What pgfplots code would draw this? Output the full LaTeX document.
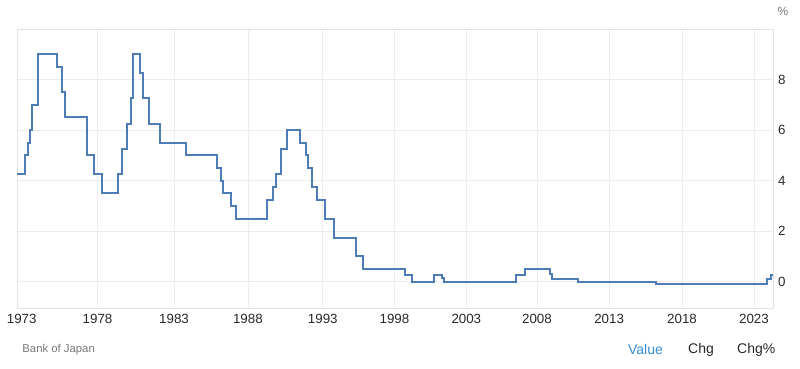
\documentclass[border=0pt]{standalone}
\usepackage{pgfplots}
\pgfplotsset{compat=1.18}
\usepackage{fontspec}
\setmainfont{Liberation Sans}
\definecolor{linec}{RGB}{77,124,182}
\definecolor{gridc}{RGB}{236,236,236}
\definecolor{framec}{RGB}{226,226,226}
\definecolor{tickc}{RGB}{40,40,40}
\definecolor{srcc}{RGB}{120,120,120}
\definecolor{valc}{RGB}{52,142,214}
\begin{document}
\begin{tikzpicture}
\path[use as bounding box] (0,0) rectangle (600pt,276pt);
\begin{axis}[
  at={(12.98pt,44.78pt)}, anchor=south west,
  width=567pt, height=209.5pt, scale only axis,
  x coord trafo/.code={\pgfmathparse{#1<1978 ? (20.8+(#1-1973)*15.18) : (#1<1983 ? (96.7+(#1-1978)*15.32) : (#1<1988 ? (173.3+(#1-1983)*14.8) : (#1<1993 ? (247.3+(#1-1988)*15.0) : (#1<1998 ? (322.3+(#1-1993)*14.34) : (#1<2003 ? (394+(#1-1998)*14.4) : (#1<2008 ? (466+(#1-2003)*14.14) : (#1<2013 ? (536.7+(#1-2008)*14.46) : (#1<2018 ? (609+(#1-2013)*14.6) : (#1<2023 ? (682+(#1-2018)*14.4) : (754+(#1-2023)*11)))))))))))}},
  xmin=1972.71, xmax=2024.76,
  ymin=-1.05, ymax=10,
  xtick={1978,1983,1988,1993,1998,2003,2008,2013,2018,2023},
  xticklabels={1978,1983,1988,1993,1998,2003,2008,2013,2018,2023},
  extra x ticks={1973}, extra x tick labels={1973},
  extra x tick style={grid=none},
  ytick={0,2,4,6,8,10}, yticklabels={0,2,4,6,8,},
  yticklabel pos=right,
  grid=major, grid style={color=gridc, line width=0.5pt},
  axis line style={color=framec, line width=0.6pt},
  tick style={draw=none},
  /pgf/number format/assume math mode=true,
  ticklabel style={font=\fontsize{10}{12}\selectfont, text=tickc},
  yticklabel style={anchor=west, xshift=0pt},
  xticklabel style={yshift=-1pt},
  clip=false,
]
\addplot[const plot, color=linec, line width=1.5pt, line join=miter] coordinates {
(1972.71,4.25) (1973.21,5.0) (1973.39,5.5) (1973.54,6.0) (1973.67,7.0)
(1974.05,9.0) (1975.30,8.5) (1975.65,7.5) (1975.87,6.5) (1977.33,5.0)
(1977.76,4.25) (1978.28,3.5) (1979.31,4.25) (1979.57,5.25) (1979.90,6.25)
(1980.18,7.25) (1980.35,9.0) (1980.78,8.25) (1981.00,7.25) (1981.37,6.25)
(1982.08,5.5) (1983.84,5.0) (1985.93,4.5) (1986.20,4.0) (1986.33,3.5)
(1986.88,3.0) (1987.17,2.5) (1989.29,3.25) (1989.67,3.75) (1989.89,4.25)
(1990.18,5.25) (1990.63,6.0) (1991.45,5.5) (1991.85,5.0) (1992.03,4.5)
(1992.31,3.75) (1992.58,3.25) (1993.12,2.5) (1993.77,1.75) (1995.33,1.0)
(1995.82,0.5) (1998.72,0.25) (1999.23,0.0) (2000.73,0.25) (2001.31,0.15)
(2001.47,0.0) (2006.54,0.25) (2007.18,0.5) (2008.87,0.3) (2009.04,0.1)
(2010.81,0.0) (2016.21,-0.1) (2024.21,0.1) (2024.52,0.25) (2024.76,0.25)
};
\end{axis}
\node[text=srcc, font=\fontsize{9}{11}\selectfont] at (587.3pt,267.5pt) {\%};
\node[anchor=west, inner sep=0pt, text=srcc, font=\fontsize{8.5}{10}\selectfont] at (16.6pt,13.9pt) {Bank of Japan};
\node[text=valc, font=\fontsize{10.5}{12}\selectfont] at (484.1pt,13.9pt) {Value};
\node[text=tickc, font=\fontsize{10.5}{12}\selectfont] at (525.8pt,13.9pt) {Chg};
\node[text=tickc, font=\fontsize{10.5}{12}\selectfont] at (567.2pt,13.9pt) {Chg\%};
\end{tikzpicture}
\end{document}
